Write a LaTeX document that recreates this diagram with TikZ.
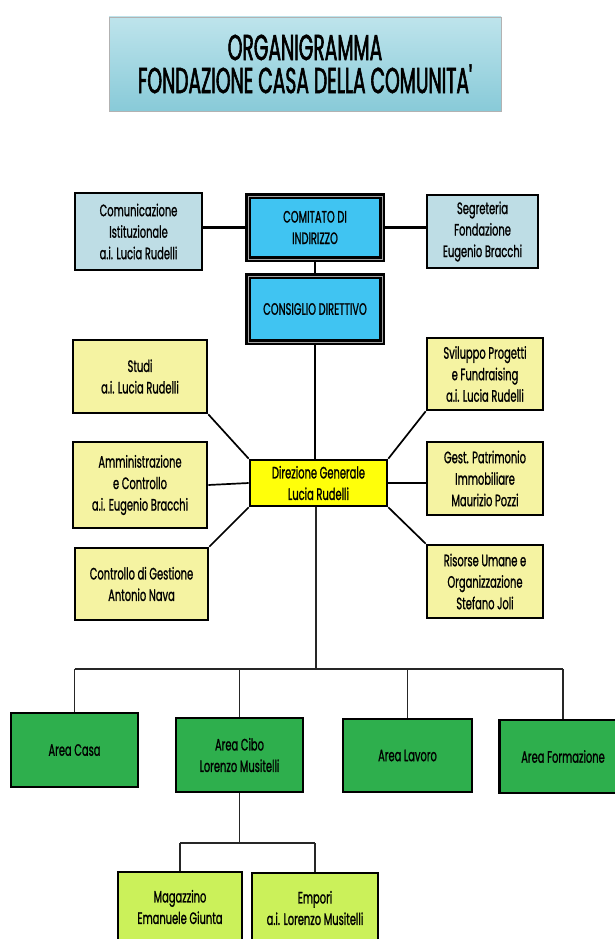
\documentclass[tikz,border=0pt]{standalone}
\usepackage{fontspec}
\usepackage{xcolor}
\setmainfont{Poppins}[FakeStretch=0.6, FakeBold=1]
\newfontfamily\titlefont{Poppins}[FakeStretch=0.52, FakeBold=1.6]
\usetikzlibrary{positioning}

\definecolor{paleblue}{HTML}{BEDDE5}
\definecolor{skyblue}{HTML}{40C4F2}
\definecolor{paleyellow}{HTML}{F5F3A2}
\definecolor{diryellow}{HTML}{FFFF0A}
\definecolor{areagreen}{HTML}{2EAF4D}
\definecolor{limegreen}{HTML}{CBF15A}
\definecolor{titletop}{HTML}{BEE4EC}
\definecolor{titlebot}{HTML}{88CAD8}

\tikzset{
  orgbox/.style={draw=black, line width=2.6pt, align=center,
    font=\fontsize{16.5}{21.5}\selectfont, inner sep=2pt},
  infobox/.style={orgbox, fill=paleblue},
  boardbox/.style={orgbox, fill=skyblue, line width=2.6pt,
    double=gray!70, double distance=1pt},
  staffbox/.style={orgbox, fill=paleyellow},
  headbox/.style={orgbox, fill=diryellow},
  areabox/.style={orgbox, fill=areagreen},
  unitbox/.style={orgbox, fill=limegreen},
  link/.style={draw=black, line width=2.2pt},
  spoke/.style={draw=black, line width=1.7pt},
  tree/.style={draw=black!85, line width=1.2pt}
}

\begin{document}
\begin{tikzpicture}[x=1pt, y=-1pt]
  \useasboundingbox (0,0) rectangle (614,939);

  % titolo
  \node[draw=gray!60, line width=0.4pt, top color=titletop, bottom color=titlebot,
        minimum width=392pt, minimum height=94pt, align=center,
        font=\titlefont\fontsize{36}{33}\selectfont] (titolo) at (305,64)
        {ORGANIGRAMMA\\FONDAZIONE CASA DELLA COMUNITA'};

  % vertice
  \node[infobox, minimum width=127pt, minimum height=77pt] (comunicazione) at (138.5,231.5)
        {Comunicazione\\Istituzionale\\a.i. Lucia Rudelli};
  \node[boardbox, minimum width=134pt, minimum height=63pt] (comitato) at (315,227.5)
        {COMITATO DI\\INDIRIZZO};
  \node[infobox, minimum width=111pt, minimum height=73pt] (segreteria) at (482.5,231.5)
        {Segreteria\\Fondazione\\Eugenio Bracchi};
  \node[boardbox, minimum width=134pt, minimum height=66pt] (consiglio) at (315,309)
        {CONSIGLIO DIRETTIVO};

  % staff
  \node[staffbox, minimum width=134pt, minimum height=73pt] (studi) at (140,376.5)
        {Studi\\a.i. Lucia Rudelli};
  \node[staffbox, minimum width=134pt, minimum height=86pt] (amministrazione) at (140,485)
        {Amministrazione\\e Controllo\\a.i. Eugenio Bracchi};
  \node[staffbox, minimum width=133pt, minimum height=72pt] (gestione) at (141.5,584)
        {Controllo di Gestione\\Antonio Nava};
  \node[headbox, minimum width=137pt, minimum height=46pt] (direzione) at (318.5,483)
        {Direzione Generale\\Lucia Rudelli};
  \node[staffbox, minimum width=116pt, minimum height=72pt] (sviluppo) at (485,374)
        {Sviluppo Progetti\\e Fundraising\\a.i. Lucia Rudelli};
  \node[staffbox, minimum width=116pt, minimum height=73pt] (patrimonio) at (485,478.5)
        {Gest. Patrimonio\\Immobiliare\\Maurizio Pozzi};
  \node[staffbox, minimum width=116pt, minimum height=73pt] (risorse) at (485,581.5)
        {Risorse Umane e\\Organizzazione\\Stefano Joli};

  % aree
  \node[areabox, minimum width=127pt, minimum height=74pt] (casa) at (74.5,750) {Area Casa};
  \node[areabox, minimum width=127pt, minimum height=74pt] (cibo) at (239.5,755)
        {Area Cibo\\Lorenzo Musitelli};
  \node[areabox, minimum width=129pt, minimum height=73pt] (lavoro) at (407.5,755.5) {Area Lavoro};
  \node[areabox, minimum width=127pt, minimum height=73pt] (formazione) at (563,756.5) {Area Formazione};
  \node[unitbox, minimum width=124pt, minimum height=70pt] (magazzino) at (180,907)
        {Magazzino\\Emanuele Giunta};
  \node[unitbox, minimum width=126pt, minimum height=70pt] (empori) at (315,908)
        {Empori\\a.i. Lorenzo Musitelli};

  \coordinate (bus) at (316,669);
  \coordinate (subbus) at (238,843);

  % collegamenti
  \draw[link] (comunicazione.east |- comitato.west) -- (comitato.west);
  \draw[link] (comitato.east) -- (segreteria.west |- comitato.east);
  \draw[spoke] (comitato.south) -- (consiglio.north);
  \draw[spoke] (consiglio.south) -- (consiglio.south |- direzione.north);
  \draw[spoke] (studi.south east) -- (direzione.north west);
  \draw[spoke] (amministrazione.east) -- (direzione.west);
  \draw[spoke] (gestione.north east) -- (direzione.south west);
  \draw[spoke] (sviluppo.south west) -- (direzione.north east);
  \draw[spoke] (patrimonio.west |- direzione.east) -- (direzione.east);
  \draw[spoke] (risorse.north west) -- (direzione.south east);
  \draw[tree] (bus |- direzione.south) -- (bus);
  \draw[tree] (casa.north |- bus) -- (formazione.north |- bus);
  \foreach \a in {casa, cibo, lavoro, formazione}
    \draw[tree] (\a.north |- bus) -- (\a.north);
  \draw[tree] (cibo.south) -- (cibo.south |- subbus);
  \draw[tree] (magazzino.north |- subbus) -- (empori.north |- subbus);
  \foreach \u in {magazzino, empori}
    \draw[tree] (\u.north |- subbus) -- (\u.north);
\end{tikzpicture}
\end{document}
